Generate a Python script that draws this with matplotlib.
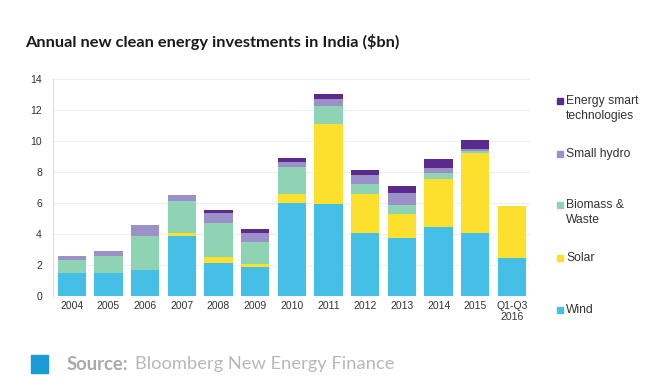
import numpy as np
import matplotlib
matplotlib.use("Agg")
import matplotlib.pyplot as plt
from matplotlib.patches import Rectangle

# Datos (miles de millones USD)
anios = ['2004', '2005', '2006', '2007', '2008', '2009', '2010',
         '2011', '2012', '2013', '2014', '2015', 'Q1-Q3\n2016']
eolica = [1.49, 1.49, 1.66, 3.86, 2.14, 1.88, 5.97, 5.91, 4.03, 3.75, 4.47, 4.06, 2.46]
solar = [0.0, 0.0, 0.0, 0.17, 0.38, 0.17, 0.59, 5.20, 2.55, 1.51, 3.08, 5.19, 3.34]
biomasa = [0.80, 1.10, 2.22, 2.10, 2.16, 1.42, 1.74, 1.19, 0.65, 0.63, 0.41, 0.13, 0.0]
hidro = [0.30, 0.28, 0.69, 0.38, 0.69, 0.61, 0.35, 0.40, 0.56, 0.78, 0.32, 0.09, 0.0]
smart = [0.0, 0.0, 0.0, 0.0, 0.19, 0.21, 0.24, 0.37, 0.34, 0.43, 0.54, 0.60, 0.0]

series = [('Wind', eolica, '#45bfe6'),
          ('Solar', solar, '#fde02e'),
          ('Biomass &\nWaste', biomasa, '#8ed3b3'),
          ('Small hydro', hidro, '#9c90c9'),
          ('Energy smart\ntechnologies', smart, '#5a2a8d')]

plt.rcParams['font.family'] = ['Liberation Sans', 'DejaVu Sans']

fig = plt.figure(figsize=(6.6, 3.9), dpi=100)
ax = fig.add_axes([0.0803, 0.2418, 0.7227, 0.5549])

x = np.arange(len(anios))
base = np.zeros(len(anios))
for nombre, vals, color in series:
    ax.bar(x, vals, width=0.77, bottom=base, color=color, linewidth=0, zorder=3)
    base += np.array(vals)

ax.set_ylim(0, 14)
ax.set_xlim(-0.51, 12.49)
ax.set_yticks(range(0, 15, 2))
ax.set_xticks(x)
ax.set_xticklabels(anios, fontsize=7.5, color='#333333', linespacing=1.1)
ax.tick_params(axis='y', labelsize=7.5, colors='#333333', length=0, pad=8)
ax.tick_params(axis='x', length=0, pad=4)
ax.grid(axis='y', color='#efefef', linewidth=0.8, zorder=0)
for s in ['top', 'right', 'bottom']:
    ax.spines[s].set_visible(False)
ax.spines['left'].set_color('#dddddd')
ax.spines['left'].set_linewidth(0.8)

# Leyenda manual (alineada con la primera línea)
posiciones = {'Energy smart\ntechnologies': 101, 'Small hydro': 154,
              'Biomass &\nWaste': 205, 'Solar': 258, 'Wind': 310}
for nombre, vals, color in series:
    ypx = posiciones[nombre]
    yf = 1 - ypx / 390
    fig.patches.append(Rectangle((557 / 660, yf - 3 / 390), 6 / 660, 6 / 390,
                                 transform=fig.transFigure, color=color))
    fig.text(566 / 660, yf + 6 / 390, nombre, fontsize=8.7, color='#333333',
             va='top', ha='left', linespacing=1.3)

# Título
fig.text(25 / 660, 1 - 42 / 390, 'Annual new clean energy investments in India ($bn)',
         fontsize=11.8, fontweight='bold', family=['Lato', 'DejaVu Sans'],
         color='#1a1a1a', va='center', ha='left')

# Fuente
fig.patches.append(Rectangle((31 / 660, 1 - 373 / 390), 17 / 660, 18 / 390,
                             transform=fig.transFigure, color='#1a9ad6'))
fig.text(67 / 660, 1 - 364 / 390, 'Source:', fontsize=13.2, fontweight='bold',
         family=['Lato', 'DejaVu Sans'], color='#aaaaaa', va='center', ha='left')
fig.text(135 / 660, 1 - 364 / 390, 'Bloomberg New Energy Finance', fontsize=13.2,
         family=['Lato', 'DejaVu Sans'], color='#b8b8b8', va='center', ha='left')

fig.savefig('out.png', dpi=100)
